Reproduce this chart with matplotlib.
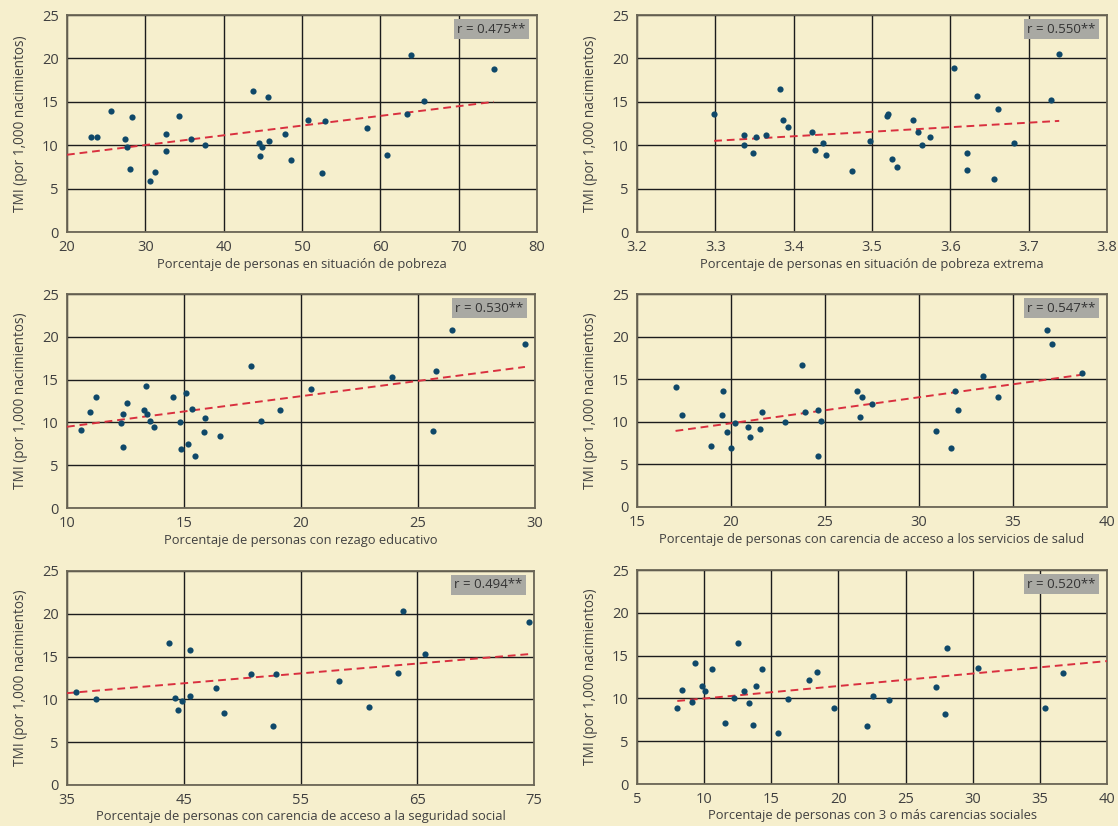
import numpy as np
import matplotlib
matplotlib.use("Agg")
import matplotlib.pyplot as plt

plt.rcParams['font.family'] = ['Open Sans', 'DejaVu Sans']

BG = '#f6efcd'
DOT = '#0f4869'
RED = '#d9303f'

# Panel 1: pobreza
pob_x = [23.05, 23.8, 25.6, 27.4, 27.6, 28.3, 28.0, 30.65, 31.2, 32.6, 32.7, 34.25, 35.8, 37.6,
         43.8, 45.6, 44.5, 44.95, 44.6, 45.8, 47.86, 48.6, 50.8, 52.9, 52.6, 58.3, 60.9, 63.4,
         63.9, 65.6, 74.5]
pob_y = [10.97, 10.97, 13.9, 10.7, 9.74, 13.3, 7.25, 5.87, 6.94, 11.27, 9.36, 13.4, 10.77, 9.97,
         16.3, 15.6, 10.3, 9.74, 8.74, 10.5, 11.27, 8.24, 12.85, 12.77, 6.79, 12.0, 8.86, 13.57,
         20.36, 15.1, 18.75]
pob_trend_x = [20, 74.5]
pob_trend_y = [8.9, 15.0]

# Panel 2: pobreza extrema
ext_x = [3.2985, 3.336, 3.336, 3.348, 3.352, 3.365, 3.383, 3.387, 3.393, 3.424, 3.427, 3.437,
         3.441, 3.474, 3.497, 3.519, 3.520, 3.525, 3.532, 3.552, 3.559, 3.564, 3.574, 3.605,
         3.621, 3.621, 3.634, 3.656, 3.661, 3.681, 3.729, 3.739]
ext_y = [13.54, 11.16, 9.97, 9.13, 10.93, 11.16, 16.45, 12.92, 12.08, 11.54, 9.39, 10.24,
         8.82, 7.06, 10.47, 13.34, 13.6, 8.36, 7.44, 12.92, 11.54, 10.08, 10.97, 18.9,
         9.05, 7.13, 15.68, 6.13, 14.19, 10.2, 15.15, 20.5]
ext_trend_x = [3.2985, 3.739]
ext_trend_y = [10.5, 12.8]

# Panel 3: rezago educativo
rez_x = [10.6, 10.99, 11.22, 12.32, 12.40, 12.40, 12.57, 13.27, 13.36, 13.44, 13.53, 13.73,
         14.54, 14.83, 14.89, 15.08, 15.17, 15.35, 15.49, 15.87, 15.90, 16.54, 17.86, 18.30,
         19.1, 20.44, 23.9, 25.64, 25.78, 26.44, 29.57]
rez_y = [9.10, 11.21, 13.0, 9.96, 11.02, 7.07, 12.23, 11.45, 14.3, 11.02, 10.16, 9.49,
         13.0, 10.08, 6.91, 13.44, 7.5, 11.56, 6.09, 8.91, 10.51, 8.40, 16.64, 10.16,
         11.45, 13.87, 15.3, 9.02, 15.98, 20.78, 19.14]
rez_trend_x = [10, 29.57]
rez_trend_y = [9.49, 16.48]

# Panel 4: servicios de salud
sal_x = [17.05, 17.41, 18.93, 19.52, 19.58, 19.77, 20.02, 20.19, 20.89, 21.0, 21.52, 21.67,
         22.86, 23.78, 23.95, 24.65, 24.65, 24.80, 26.70, 26.99, 26.85, 27.52, 30.92, 31.72,
         31.89, 32.06, 33.41, 34.19, 36.83, 37.06, 38.65]
sal_y = [14.11, 10.85, 7.21, 10.85, 13.6, 8.86, 6.94, 9.87, 9.37, 8.23, 9.13, 11.13,
         10.03, 16.65, 11.17, 11.4, 6.03, 10.15, 13.6, 12.93, 10.58, 12.07, 8.97, 6.94,
         13.6, 11.36, 15.36, 12.93, 20.77, 19.16, 15.71]
sal_trend_x = [17.05, 38.65]
sal_trend_y = [8.93, 15.52]

# Panel 5: seguridad social
seg_x = [35.76, 37.48, 43.72, 44.27, 44.48, 44.85, 45.55, 45.55, 47.75, 48.49, 50.72, 52.65,
         52.92, 58.30, 60.84, 63.35, 63.81, 65.64, 74.57]
seg_y = [10.88, 10.02, 16.57, 10.14, 8.78, 9.79, 15.79, 10.45, 11.39, 8.39, 12.99, 6.90,
         12.95, 12.17, 9.13, 13.1, 20.32, 15.25, 19.03]
seg_trend_x = [35, 74.57]
seg_trend_y = [10.73, 15.29]

# Panel 6: 3 o más carencias
car_x = [8.0, 8.35, 9.12, 9.34, 9.81, 10.08, 10.59, 11.54, 12.23, 12.5, 12.98, 13.35, 13.62,
         13.88, 14.31, 15.5, 16.28, 17.79, 18.38, 19.65, 22.15, 22.55, 23.8, 27.23, 27.93,
         28.09, 30.37, 35.35, 36.73]
car_y = [8.92, 11.0, 9.62, 14.08, 11.42, 10.84, 13.46, 7.16, 10.02, 16.47, 10.84, 9.43, 6.85,
         11.42, 13.46, 5.95, 9.9, 12.17, 13.03, 8.84, 6.73, 10.33, 9.78, 11.35, 8.22,
         15.85, 13.58, 8.92, 12.95]
car_trend_x = [8.0, 40]
car_trend_y = [9.7, 14.36]

paneles = [
    (pob_x, pob_y, pob_trend_x, pob_trend_y, [20, 30, 40, 50, 60, 70, 80], '{:.0f}',
     'Porcentaje de personas en situación de pobreza', 'r = 0.475**'),
    (ext_x, ext_y, ext_trend_x, ext_trend_y, [3.2, 3.3, 3.4, 3.5, 3.6, 3.7, 3.8], '{:.1f}',
     'Porcentaje de personas en situación de pobreza extrema', 'r = 0.550**'),
    (rez_x, rez_y, rez_trend_x, rez_trend_y, [10, 15, 20, 25, 30], '{:.0f}',
     'Porcentaje de personas con rezago educativo', 'r = 0.530**'),
    (sal_x, sal_y, sal_trend_x, sal_trend_y, [15, 20, 25, 30, 35, 40], '{:.0f}',
     'Porcentaje de personas con carencia de acceso a los servicios de salud', 'r = 0.547**'),
    (seg_x, seg_y, seg_trend_x, seg_trend_y, [35, 45, 55, 65, 75], '{:.0f}',
     'Porcentaje de personas con carencia de acceso a la seguridad social', 'r = 0.494**'),
    (car_x, car_y, car_trend_x, car_trend_y, [5, 10, 15, 20, 25, 30, 35, 40], '{:.0f}',
     'Porcentaje de personas con 3 o más carencias sociales', 'r = 0.520**'),
]

# cajas de ejes en pixeles: (izq, arriba, der, abajo)
W, H = 1118, 826
cajas = [
    (67, 15, 537, 232), (637, 15, 1107, 232),
    (67, 294, 535, 508), (637, 294, 1107, 507),
    (67, 571, 534, 785), (637, 570, 1107, 784),
]

fig = plt.figure(figsize=(W / 100, H / 100), dpi=100, facecolor=BG)

for i, ((x, y, tx, ty, xticks, fmt, xlabel, rtxt), (l, t, r, b)) in enumerate(zip(paneles, cajas)):
    ax = fig.add_axes([l / W, 1 - b / H, (r - l) / W, (b - t) / H])
    ax.set_facecolor(BG)
    ax.set_xlim(xticks[0], xticks[-1])
    ax.set_ylim(0, 25)
    ax.set_xticks(xticks)
    ax.set_xticklabels([fmt.format(v) for v in xticks])
    ax.set_yticks([0, 5, 10, 15, 20, 25])
    ax.grid(True, color='#1c1c1c', linewidth=1.0)
    ax.set_axisbelow(True)
    for s in ax.spines.values():
        s.set_color('#6b6656')
        s.set_linewidth(1.3)
    ax.tick_params(axis='both', length=0, labelsize=10.5, labelcolor='#404040')
    ax.tick_params(axis='x', pad=6)
    ax.tick_params(axis='y', pad=6)
    ax.plot(tx, ty, linestyle=(0, (4, 2.5)), color=RED, linewidth=1.4, zorder=3)
    ax.scatter(x, y, s=20, color=DOT, zorder=4, linewidths=0)
    ax.set_xlabel(xlabel, fontsize=9.3, color='#404040', labelpad=1 if i >= 4 else 2)
    ax.set_ylabel('TMI (por 1,000 nacimientos)', fontsize=9.8, color='#404040', labelpad=10)
    ax.annotate(rtxt, xy=(1, 1), xycoords='axes fraction', xytext=(-8.3, -5.4),
                textcoords='offset points', ha='right', va='top',
                fontsize=9.5, color='#333333', zorder=5,
                bbox=dict(boxstyle='square,pad=0.25', facecolor='#a9a9a3', edgecolor='none'))

fig.savefig('out.png', dpi=100, facecolor=BG)
